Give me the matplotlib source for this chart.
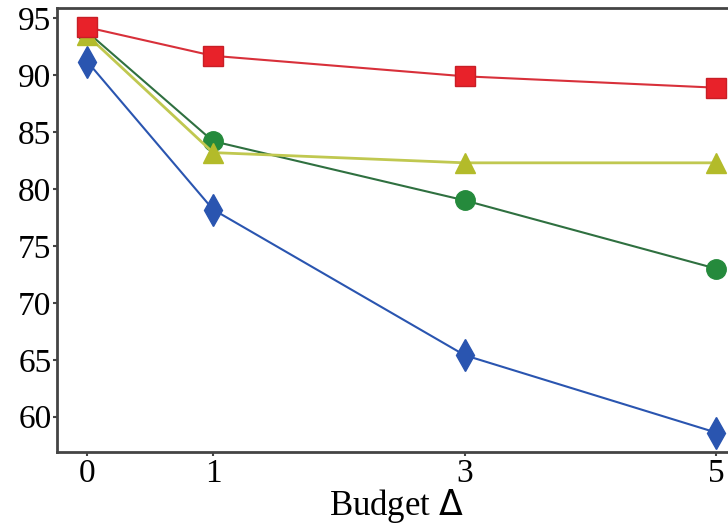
import matplotlib.pyplot as plt

budgets = [0, 1, 3, 5]
red_sq = [94.2, 91.7, 89.9, 88.9]
yellow_tri = [93.5, 83.2, 82.3, 82.3]
green_circ = [93.8, 84.2, 79.0, 73.0]
blue_dia = [91.2, 78.2, 65.4, 58.6]

plt.rcParams['font.family'] = ['Liberation Serif', 'DejaVu Serif']

fig = plt.figure(figsize=(7.28, 5.32), dpi=100)
ax = fig.add_axes([57 / 728, 1 - 452 / 532, 1 - 57 / 728 + 0.01, (452 - 8) / 532])

ax.plot(budgets, blue_dia, color='#2a55b0', marker='d', markersize=16, lw=1.5)
ax.plot(budgets, green_circ, color='#2f7040', mfc='#258a3c', mec='#258a3c',
        marker='o', markersize=14, lw=1.5)
ax.plot(budgets, yellow_tri, color='#c0c850', mfc='#b3bb2a', mec='#b3bb2a',
        marker='^', markersize=15, lw=2)
ax.plot(budgets, red_sq, color='#d8303a', mfc='#e8222a', mec='#c81e26',
        marker='s', markersize=14, lw=1.5)

ax.set_xlim(-0.24, 5.15)
ax.set_ylim(56.9, 95.9)
ax.set_xticks(budgets)
ax.set_yticks([60, 65, 70, 75, 80, 85, 90, 95])
ax.tick_params(labelsize=24, length=3, width=1.5, color='#444444', pad=1)
ax.tick_params(axis='x', pad=2)
ax.set_xlabel('Budget $\\Delta$', fontsize=25, labelpad=-2)
for s in ax.spines.values():
    s.set_linewidth(2)
    s.set_color('#444444')
ax.spines['right'].set_visible(False)

fig.savefig('out.png', dpi=100)
